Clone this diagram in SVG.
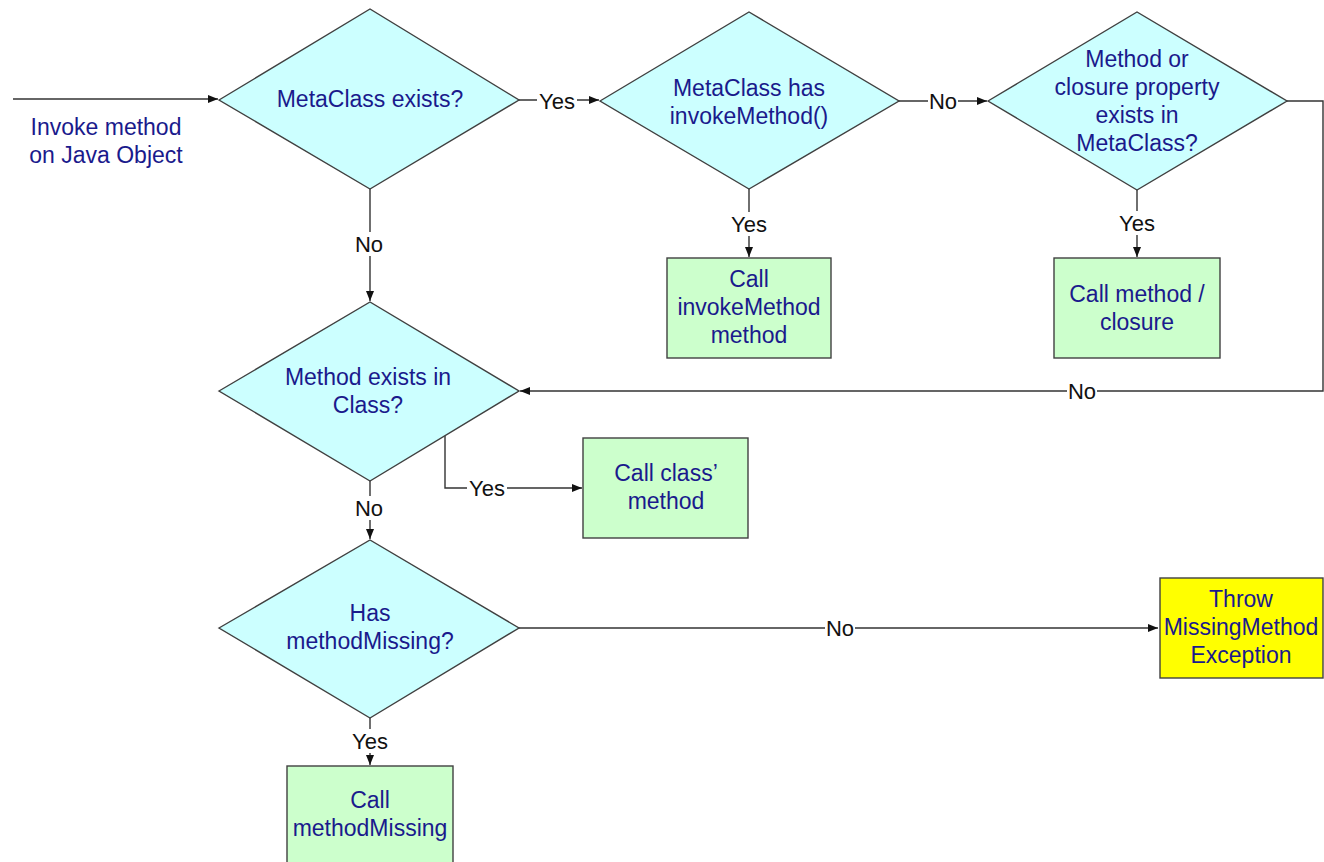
<svg xmlns="http://www.w3.org/2000/svg" width="1324" height="862" viewBox="0 0 1324 862">
<defs>
<style>
.dia{fill:#ccffff;stroke:#404040;stroke-width:1.4}
.box{fill:#ccffcc;stroke:#404040;stroke-width:1.4}
.warn{fill:#ffff00;stroke:#404040;stroke-width:1.4}
.t{font-family:"Liberation Sans",Arial,sans-serif;font-size:23px;fill:#1a1a8c;text-anchor:middle}
.lbl{font-family:"Liberation Sans",Arial,sans-serif;font-size:22px;fill:#111;text-anchor:middle}
.ln{fill:none;stroke:#333;stroke-width:1.4}
.bg{fill:#ffffff}
</style>
<marker id="arr" markerUnits="userSpaceOnUse" markerWidth="10" markerHeight="8" refX="10" refY="4" orient="auto">
<path d="M0,0 L10,4 L0,8 z" fill="#111"/>
</marker>
</defs>
<rect width="1324" height="862" fill="#ffffff"/>

<g id="connectors">
<path class="ln" d="M13,99 H218" marker-end="url(#arr)"/>
<path class="ln" d="M519,100 H599" marker-end="url(#arr)"/>
<path class="ln" d="M899,101 H987" marker-end="url(#arr)"/>
<path class="ln" d="M370,189 V301" marker-end="url(#arr)"/>
<path class="ln" d="M749,189 V257" marker-end="url(#arr)"/>
<path class="ln" d="M1137,190 V257" marker-end="url(#arr)"/>
<path class="ln" d="M1287,101 H1323 V391 H520" marker-end="url(#arr)"/>
<path class="ln" d="M445,436 V488 H582" marker-end="url(#arr)"/>
<path class="ln" d="M370,481 V539" marker-end="url(#arr)"/>
<path class="ln" d="M519,628 H1158" marker-end="url(#arr)"/>
<path class="ln" d="M370,718 V765" marker-end="url(#arr)"/>

<rect class="bg" x="537" y="90" width="40" height="22"/>
<text class="lbl" x="557" y="109">Yes</text>
<rect class="bg" x="928" y="90" width="30" height="22"/>
<text class="lbl" x="943" y="109">No</text>
<rect class="bg" x="355" y="232" width="30" height="24"/>
<text class="lbl" x="369" y="252">No</text>
<rect class="bg" x="729" y="212" width="40" height="24"/>
<text class="lbl" x="749" y="232">Yes</text>
<rect class="bg" x="1117" y="211" width="40" height="24"/>
<text class="lbl" x="1137" y="231">Yes</text>
<rect class="bg" x="1067" y="380" width="30" height="22"/>
<text class="lbl" x="1082" y="399">No</text>
<rect class="bg" x="467" y="477" width="40" height="22"/>
<text class="lbl" x="487" y="496">Yes</text>
<rect class="bg" x="354" y="496" width="30" height="24"/>
<text class="lbl" x="369" y="516">No</text>
<rect class="bg" x="825" y="617" width="30" height="22"/>
<text class="lbl" x="840" y="636">No</text>
<rect class="bg" x="350" y="729" width="40" height="24"/>
<text class="lbl" x="370" y="749">Yes</text>
</g>

<g id="start">
<text class="t" x="106" y="135">Invoke method</text>
<text class="t" x="106" y="163">on Java Object</text>
</g>

<g id="metaclass-exists">
<polygon class="dia" points="219,100 370,9 519,100 370,189"/>
<text class="t" x="370" y="107">MetaClass exists?</text>
</g>

<g id="has-invokemethod">
<polygon class="dia" points="600,101 749,12 899,101 749,189"/>
<text class="t" x="749" y="96">MetaClass has</text>
<text class="t" x="749" y="124">invokeMethod()</text>
</g>

<g id="method-in-metaclass">
<polygon class="dia" points="988,101 1137,12 1287,101 1137,190"/>
<text class="t" x="1137" y="67">Method or</text>
<text class="t" x="1137" y="95">closure property</text>
<text class="t" x="1137" y="123">exists in</text>
<text class="t" x="1137" y="151">MetaClass?</text>
</g>

<g id="call-invokemethod">
<rect class="box" x="667" y="258" width="164" height="100"/>
<text class="t" x="749" y="287">Call</text>
<text class="t" x="749" y="315">invokeMethod</text>
<text class="t" x="749" y="343">method</text>
</g>

<g id="call-closure">
<rect class="box" x="1054" y="258" width="166" height="100"/>
<text class="t" x="1137" y="302">Call method /</text>
<text class="t" x="1137" y="330">closure</text>
</g>

<g id="method-in-class">
<polygon class="dia" points="219,391 370,302 519,391 370,481"/>
<text class="t" x="368" y="385">Method exists in</text>
<text class="t" x="368" y="413">Class?</text>
</g>

<g id="call-class-method">
<rect class="box" x="583" y="438" width="165" height="100"/>
<text class="t" x="666" y="481">Call class’</text>
<text class="t" x="666" y="509">method</text>
</g>

<g id="has-methodmissing">
<polygon class="dia" points="219,628 370,540 519,628 370,718"/>
<text class="t" x="370" y="621">Has</text>
<text class="t" x="370" y="649">methodMissing?</text>
</g>

<g id="throw-exception">
<rect class="warn" x="1160" y="578" width="163" height="100"/>
<text class="t" x="1241" y="607">Throw</text>
<text class="t" x="1241" y="635">MissingMethod</text>
<text class="t" x="1241" y="663">Exception</text>
</g>

<g id="call-methodmissing">
<rect class="box" x="287" y="766" width="166" height="110"/>
<text class="t" x="370" y="808">Call</text>
<text class="t" x="370" y="836">methodMissing</text>
</g>
</svg>
